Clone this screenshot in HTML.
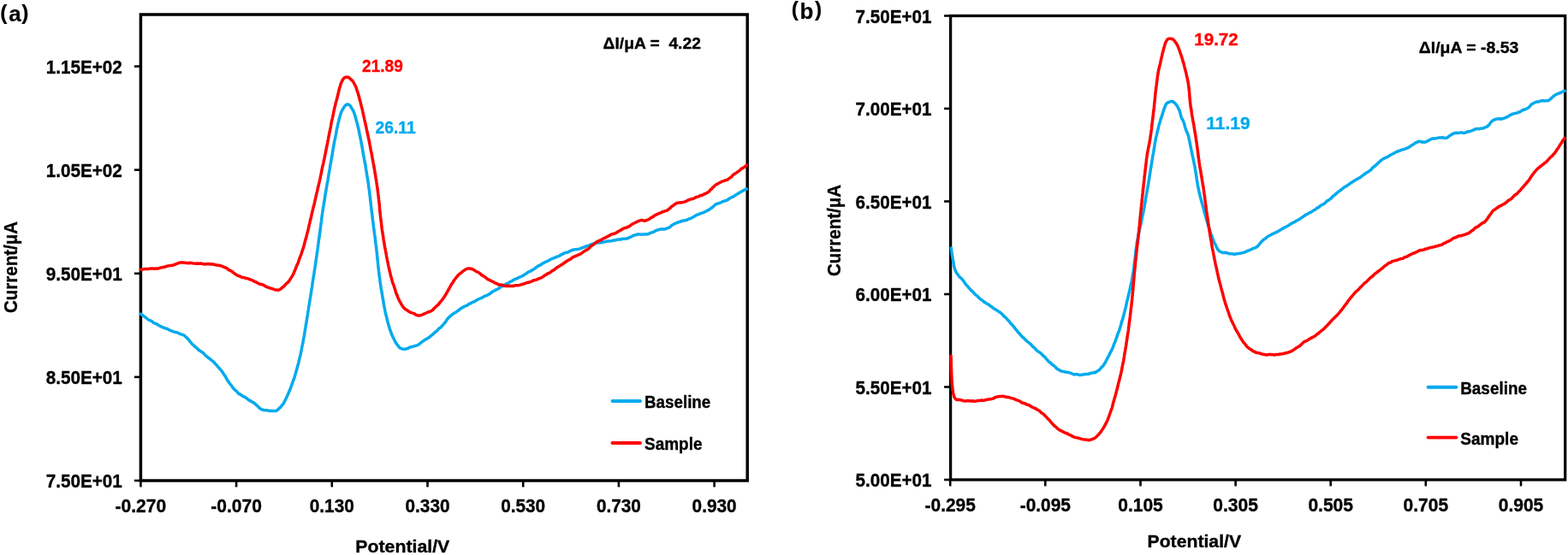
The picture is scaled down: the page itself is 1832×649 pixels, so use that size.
<!DOCTYPE html>
<html><head><meta charset="utf-8"><title>Chart</title>
<style>html,body{margin:0;padding:0;background:#fff;overflow:hidden;width:1832px;height:649px}svg{display:block}</style>
</head><body>
<svg width="1832" height="649" viewBox="0 0 1832 649" font-family="'Liberation Sans', Arial, sans-serif" font-weight="bold">
<rect width="1832" height="649" fill="#fff"/>
<line x1="156.9" y1="562" x2="164.4" y2="562" stroke="#000" stroke-width="2.6"/>
<line x1="156.9" y1="440.9" x2="164.4" y2="440.9" stroke="#000" stroke-width="2.6"/>
<line x1="156.9" y1="319.8" x2="164.4" y2="319.8" stroke="#000" stroke-width="2.6"/>
<line x1="156.9" y1="198.7" x2="164.4" y2="198.7" stroke="#000" stroke-width="2.6"/>
<line x1="156.9" y1="77.6" x2="164.4" y2="77.6" stroke="#000" stroke-width="2.6"/>
<line x1="164.4" y1="562" x2="164.4" y2="569.5" stroke="#000" stroke-width="2.6"/>
<line x1="276.1" y1="562" x2="276.1" y2="569.5" stroke="#000" stroke-width="2.6"/>
<line x1="387.8" y1="562" x2="387.8" y2="569.5" stroke="#000" stroke-width="2.6"/>
<line x1="499.5" y1="562" x2="499.5" y2="569.5" stroke="#000" stroke-width="2.6"/>
<line x1="611.2" y1="562" x2="611.2" y2="569.5" stroke="#000" stroke-width="2.6"/>
<line x1="722.9" y1="562" x2="722.9" y2="569.5" stroke="#000" stroke-width="2.6"/>
<line x1="834.6" y1="562" x2="834.6" y2="569.5" stroke="#000" stroke-width="2.6"/>
<rect x="164.4" y="17" width="708.8" height="545" fill="none" stroke="#000" stroke-width="3.5"/>
<text x="142.8" y="570.2" font-size="22" fill="#000" stroke="#000" stroke-width="0.35" text-anchor="end" textLength="89" lengthAdjust="spacingAndGlyphs">7.50E+01</text>
<text x="142.8" y="449.1" font-size="22" fill="#000" stroke="#000" stroke-width="0.35" text-anchor="end" textLength="89" lengthAdjust="spacingAndGlyphs">8.50E+01</text>
<text x="142.8" y="328" font-size="22" fill="#000" stroke="#000" stroke-width="0.35" text-anchor="end" textLength="89" lengthAdjust="spacingAndGlyphs">9.50E+01</text>
<text x="142.8" y="206.9" font-size="22" fill="#000" stroke="#000" stroke-width="0.35" text-anchor="end" textLength="89" lengthAdjust="spacingAndGlyphs">1.05E+02</text>
<text x="142.8" y="85.8" font-size="22" fill="#000" stroke="#000" stroke-width="0.35" text-anchor="end" textLength="89" lengthAdjust="spacingAndGlyphs">1.15E+02</text>
<text x="164.4" y="599" font-size="21.5" fill="#000" stroke="#000" stroke-width="0.35" text-anchor="middle" textLength="59.6" lengthAdjust="spacingAndGlyphs">-0.270</text>
<text x="276.1" y="599" font-size="21.5" fill="#000" stroke="#000" stroke-width="0.35" text-anchor="middle" textLength="59.6" lengthAdjust="spacingAndGlyphs">-0.070</text>
<text x="387.8" y="599" font-size="21.5" fill="#000" stroke="#000" stroke-width="0.35" text-anchor="middle" textLength="52" lengthAdjust="spacingAndGlyphs">0.130</text>
<text x="499.5" y="599" font-size="21.5" fill="#000" stroke="#000" stroke-width="0.35" text-anchor="middle" textLength="52" lengthAdjust="spacingAndGlyphs">0.330</text>
<text x="611.2" y="599" font-size="21.5" fill="#000" stroke="#000" stroke-width="0.35" text-anchor="middle" textLength="52" lengthAdjust="spacingAndGlyphs">0.530</text>
<text x="722.9" y="599" font-size="21.5" fill="#000" stroke="#000" stroke-width="0.35" text-anchor="middle" textLength="52" lengthAdjust="spacingAndGlyphs">0.730</text>
<text x="834.6" y="599" font-size="21.5" fill="#000" stroke="#000" stroke-width="0.35" text-anchor="middle" textLength="52" lengthAdjust="spacingAndGlyphs">0.930</text>
<line x1="1103.1" y1="561" x2="1110.6" y2="561" stroke="#000" stroke-width="2.6"/>
<line x1="1103.1" y1="452.5" x2="1110.6" y2="452.5" stroke="#000" stroke-width="2.6"/>
<line x1="1103.1" y1="344" x2="1110.6" y2="344" stroke="#000" stroke-width="2.6"/>
<line x1="1103.1" y1="235.5" x2="1110.6" y2="235.5" stroke="#000" stroke-width="2.6"/>
<line x1="1103.1" y1="127" x2="1110.6" y2="127" stroke="#000" stroke-width="2.6"/>
<line x1="1103.1" y1="18.5" x2="1110.6" y2="18.5" stroke="#000" stroke-width="2.6"/>
<line x1="1110.2" y1="561" x2="1110.2" y2="568.5" stroke="#000" stroke-width="2.6"/>
<line x1="1221.3" y1="561" x2="1221.3" y2="568.5" stroke="#000" stroke-width="2.6"/>
<line x1="1332.5" y1="561" x2="1332.5" y2="568.5" stroke="#000" stroke-width="2.6"/>
<line x1="1443.6" y1="561" x2="1443.6" y2="568.5" stroke="#000" stroke-width="2.6"/>
<line x1="1554.7" y1="561" x2="1554.7" y2="568.5" stroke="#000" stroke-width="2.6"/>
<line x1="1665.8" y1="561" x2="1665.8" y2="568.5" stroke="#000" stroke-width="2.6"/>
<line x1="1777" y1="561" x2="1777" y2="568.5" stroke="#000" stroke-width="2.6"/>
<rect x="1110.6" y="18.5" width="718.1" height="542.5" fill="none" stroke="#000" stroke-width="3.3"/>
<text x="1088.5" y="569.4" font-size="22" fill="#000" stroke="#000" stroke-width="0.35" text-anchor="end" textLength="89" lengthAdjust="spacingAndGlyphs">5.00E+01</text>
<text x="1088.5" y="460.9" font-size="22" fill="#000" stroke="#000" stroke-width="0.35" text-anchor="end" textLength="89" lengthAdjust="spacingAndGlyphs">5.50E+01</text>
<text x="1088.5" y="352.4" font-size="22" fill="#000" stroke="#000" stroke-width="0.35" text-anchor="end" textLength="89" lengthAdjust="spacingAndGlyphs">6.00E+01</text>
<text x="1088.5" y="243.9" font-size="22" fill="#000" stroke="#000" stroke-width="0.35" text-anchor="end" textLength="89" lengthAdjust="spacingAndGlyphs">6.50E+01</text>
<text x="1088.5" y="135.4" font-size="22" fill="#000" stroke="#000" stroke-width="0.35" text-anchor="end" textLength="89" lengthAdjust="spacingAndGlyphs">7.00E+01</text>
<text x="1088.5" y="26.9" font-size="22" fill="#000" stroke="#000" stroke-width="0.35" text-anchor="end" textLength="89" lengthAdjust="spacingAndGlyphs">7.50E+01</text>
<text x="1110.2" y="598" font-size="21.5" fill="#000" stroke="#000" stroke-width="0.35" text-anchor="middle" textLength="59.2" lengthAdjust="spacingAndGlyphs">-0.295</text>
<text x="1221.3" y="598" font-size="21.5" fill="#000" stroke="#000" stroke-width="0.35" text-anchor="middle" textLength="59.2" lengthAdjust="spacingAndGlyphs">-0.095</text>
<text x="1332.5" y="598" font-size="21.5" fill="#000" stroke="#000" stroke-width="0.35" text-anchor="middle" textLength="52.6" lengthAdjust="spacingAndGlyphs">0.105</text>
<text x="1443.6" y="598" font-size="21.5" fill="#000" stroke="#000" stroke-width="0.35" text-anchor="middle" textLength="52.6" lengthAdjust="spacingAndGlyphs">0.305</text>
<text x="1554.7" y="598" font-size="21.5" fill="#000" stroke="#000" stroke-width="0.35" text-anchor="middle" textLength="52.6" lengthAdjust="spacingAndGlyphs">0.505</text>
<text x="1665.8" y="598" font-size="21.5" fill="#000" stroke="#000" stroke-width="0.35" text-anchor="middle" textLength="52.6" lengthAdjust="spacingAndGlyphs">0.705</text>
<text x="1777" y="598" font-size="21.5" fill="#000" stroke="#000" stroke-width="0.35" text-anchor="middle" textLength="52.6" lengthAdjust="spacingAndGlyphs">0.905</text>
<path d="M164.5 367.2 166.4 368.4 168.2 369.9 169.9 371 171.7 372.5 173.6 374 175.6 374.8 177.5 375.7 179.3 377.4 181.5 378.3 183.7 379.2 185.6 380.7 187.5 381.4 189.4 382.5 191.3 383.1 193.2 384 195.1 384.4 197 385.4 198.9 386.5 200.9 387.1 202.9 387.9 205 388.6 207 388.8 208.9 389.8 210.8 390.6 213.1 391.4 215.1 392.1 216.9 393.8 218.5 395.1 219.9 396.7 221.5 398.7 223.1 400.6 224.8 402.6 226.2 403.7 228.1 405.6 229.6 406.7 231.2 408.4 232.8 409.9 234.4 410.6 236 411.7 237.9 413.2 239.7 415.3 241.4 416.6 243.2 418.2 244.8 419.3 246.7 420.9 248.5 422.3 250 423.7 251.6 425.4 253.1 427 254.8 429.1 256.4 430.8 258 432.7 259.6 434.7 260.9 436.8 262.1 438.6 263.2 439.9 264.3 442.1 265.5 444.3 266.7 446.1 268.1 447.9 269.3 449.6 270.5 450.9 271.8 453 273.1 454.6 274.4 455.9 276.2 457.3 277.8 459.2 279.4 460.8 281.1 461.3 282.8 462.7 284.5 463.6 286.2 464.4 288 465.5 289.8 467.1 291.6 468.5 293.3 469 295 470.3 297 471.2 298.8 473 300.5 474.3 302.1 476.1 304 477.9 305.7 478.6 307.7 479.6 310.1 479.7 312 479.7 314.1 480.4 316.1 480.3 318.1 480.5 320.2 480.6 322.6 480.5 324.7 479.1 326.2 477.3 327.6 476.4 329 474.4 330.2 473.2 331.4 471.6 332.5 469.4 333.7 467 334.7 464.9 335.6 463 336.6 460.8 337.4 458.9 338.2 457 339 455.3 339.8 453 340.6 450.8 341.3 449 342 446.8 342.8 444.4 343.6 442.7 344.3 440.3 345 438 345.8 435.1 346.3 433.3 346.9 431.4 347.5 428.9 348 427.1 348.6 425.2 349.1 422.7 349.6 420.8 350.1 418.6 350.7 416.5 351.2 414 351.6 412.2 352 410.3 352.5 407.6 352.9 405 353.4 403.1 353.9 401 354.3 398.3 354.7 396.2 355.1 394.1 355.5 391.7 355.9 389.3 356.3 386.8 356.7 384.4 357 382.6 357.3 380.4 357.7 378.3 358 376.6 358.4 374 358.7 372.2 359 370.3 359.4 368 359.7 365.6 360 364 360.4 361.6 360.7 359.3 361 357.3 361.4 355.6 361.7 353.2 362.1 350.7 362.4 348.7 362.7 347.1 363 344.9 363.4 343.1 363.7 340.5 364 338.3 364.4 336.4 364.7 334.6 365 332.3 365.3 329.8 365.7 327.5 366 325.6 366.3 323.4 366.6 321.8 366.9 320.1 367.3 317.1 367.7 314.6 368 312.7 368.3 310.6 368.6 308.7 368.9 306.3 369.3 303.5 369.7 300.9 370 299 370.3 296.6 370.6 294.5 371 292.1 371.3 289.9 371.5 287.7 371.8 286 372.1 283.4 372.4 280.9 372.7 279.1 373 277.2 373.3 275.4 373.6 273 373.8 271.2 374.1 269.3 374.3 266.8 374.7 264.5 374.9 262.7 375.2 260.6 375.5 258.4 375.7 256.1 376 254 376.3 251.8 376.6 249.5 376.9 247.8 377.2 245.6 377.5 244 377.8 241.5 378.1 240 378.4 238.1 378.8 235.9 379.2 233.5 379.5 231.5 379.8 229.3 380.2 226.2 380.7 224.2 381.1 221.4 381.5 218.9 381.9 217.2 382.2 215.1 382.6 213 383 211.1 383.4 208.6 383.8 205.8 384.1 203.6 384.5 202 384.8 199.9 385.2 198 385.5 195.7 385.9 193.3 386.2 191.4 386.6 189.8 387 186.9 387.4 184.9 387.8 182.8 388.2 180.5 388.6 178.1 389 175 389.3 173.2 389.7 171.5 390.1 168.8 390.5 166.6 390.9 164.4 391.4 162.3 391.8 160.4 392.2 158.4 392.6 156.6 393 153.9 393.4 151.5 393.9 149.3 394.4 147.1 394.8 144.9 395.3 143.6 395.7 141.9 396.3 139 396.9 136.9 397.5 134.8 398.3 132.2 399.2 130.1 400 128.5 401.1 126.6 402.5 124.5 404.1 122.7 406.1 122 408.2 122.7 409.8 124.6 410.9 126.6 412 128.4 413 130.2 413.8 132.2 414.6 134.6 415.3 136.9 415.9 139.3 416.5 141.4 417.2 144 417.8 146.5 418.3 148.4 418.8 150.4 419.3 152.7 419.8 155.3 420.3 157.5 420.7 159.7 421.1 161.6 421.5 163.4 421.9 165.7 422.3 168 422.7 169.7 423.1 172 423.5 174.2 423.9 176.8 424.3 179.4 424.7 181.4 425.2 184 425.6 186.4 426 188.3 426.4 190.7 426.9 192.8 427.3 195.7 427.6 197.8 428 200 428.3 202.1 428.6 204 428.9 206.1 429.3 208 429.6 209.6 429.9 211.9 430.2 213.6 430.5 215.9 430.9 218.9 431.1 220.5 431.4 222.4 431.7 224.4 431.9 227.1 432.2 228.9 432.4 230.8 432.7 233.5 432.9 235.2 433.2 237.8 433.4 240 433.7 242.3 433.9 244.5 434.2 246.3 434.4 248.4 434.7 250.2 435 252.9 435.2 255.1 435.5 257.4 435.8 259.3 436.1 261.8 436.3 264.2 436.6 266 436.9 268.2 437.2 270.6 437.5 273.2 437.8 275 438.1 277.1 438.4 279.4 438.7 281.8 438.9 284.2 439.2 286.4 439.5 288.6 439.8 290.8 440 293 440.3 295.4 440.5 297.6 440.7 299.8 440.9 302.4 441.2 304.2 441.4 306.4 441.6 308.1 441.8 310.4 442.1 312.7 442.3 314.9 442.5 316.9 442.8 318.9 443 321 443.3 323.4 443.5 324.9 443.8 326.6 444.1 329.5 444.5 332.3 444.8 334.2 445.1 336.2 445.4 338.5 445.8 340.2 446.1 342.2 446.5 344.2 446.8 346.7 447.2 348.7 447.6 350.6 448 353.1 448.3 355.5 448.7 357.2 449.1 359.3 449.6 361.6 450 364.3 450.5 366.4 451 368.3 451.4 370.1 452 372.1 452.4 374.3 453.1 376.8 453.7 378.9 454.3 381.1 454.9 383.1 455.7 385.8 456.5 387.6 457.3 390.2 458.1 392 459 394 460 395.9 461.1 398.4 462.3 400.5 463.4 402.2 464.6 403.7 466.2 405.7 467.7 407.2 469.8 407.9 472.3 408.3 474.3 408.2 476.4 407.3 478.5 406.3 480.5 405.5 482.8 405.2 485.2 404.4 487.1 403.9 489.1 403 491 401.4 493 399.9 495.1 398.4 496.8 397.1 498.5 396.3 500.2 395.3 501.9 394.2 503.6 392.4 505.5 391.2 507.1 389.6 508.7 388.2 510.3 387.1 511.8 385.3 513.4 383.8 515.2 382.7 516.9 380.7 518.3 379.1 519.5 377.7 521 375.8 522.5 373.3 523.8 371.8 525.3 370.4 527.1 368.9 529 367.2 530.6 366.2 532.3 365.5 534 364 535.8 362.9 537.5 361.4 539.2 360.2 540.9 359.5 542.7 358.1 544.5 357.6 546.3 356.9 548.1 355.3 549.9 354.8 551.7 353.6 553.5 352.9 555.3 352.1 557.1 350.8 558.9 350 561.1 349 563.4 348.1 565.6 346.6 567.4 345.9 569.2 345.3 571 344.2 573.1 342.9 574.9 341.4 576.6 340.5 578.4 339.4 580.1 338.7 581.9 337.8 583.6 336.7 585.3 335.3 587.1 334.6 588.9 333.7 590.7 332.3 592.5 331.8 594.3 330.8 596.1 329.4 597.9 328.9 599.7 327.5 601.5 326.5 603.7 325.8 606 324.7 608.2 323.6 610.5 322.6 612.3 321.6 614.1 320.4 615.8 319.2 617.6 317.9 619.3 317.3 621.1 316.4 622.8 315.2 624.6 314.2 626.3 312.8 628 311.6 629.8 310.5 631.6 309.9 633.4 308.4 635.2 307.5 637 306.4 639.2 305.7 641.4 304.4 643.6 303.2 645.5 302.3 647.4 301.6 649.2 301 651.1 300 652.9 299.6 654.8 298.3 656.7 297.4 658.5 296.4 660.4 295.5 662.3 295.3 664.2 294.7 666 293.6 668.4 292.5 670.3 292 672.2 291.8 674.2 291.6 676.6 291.1 679 290.4 680.9 289.4 682.9 288.9 684.8 288 686.8 287.5 688.7 286.9 690.6 285.8 692.6 285 694.5 284.8 696.5 283.9 698.5 283.9 700.5 283.8 702.6 283.7 704.6 283 706.6 282.7 708.6 282.3 710.6 282.1 712.7 282 714.8 281.6 716.9 280.9 718.9 280.9 721.2 280.3 723.3 280.1 725.4 280 727.8 279.2 730.2 279.3 732.2 279 734.5 278.1 736.8 277.1 738.7 276.2 740.6 275.1 742.7 274.7 745.1 274 747.5 274 749.6 274.2 751.7 274 753.8 273.9 755.8 273.9 757.8 273.6 759.8 272.3 761.8 271.9 763.7 271.1 765.7 269.9 768 269.1 770 268.5 772.1 267.9 774.6 267.9 777 268 778.9 267.2 781.1 266.4 782.8 265.4 784.5 263.7 786.2 262.8 788 261.6 789.9 260.9 792.2 260 794.6 259.3 796.5 258.4 798.5 258.1 800.5 257.8 802.5 257.3 804.4 256.2 806.7 255.5 808.6 254.6 810.5 253.4 812.4 252.3 814.2 251.4 816.1 250.6 818 249.8 819.9 249.2 821.8 248.6 823.7 247.7 825.5 246.7 827.7 245.7 829.7 244.3 831.5 243 833.3 241.6 835.1 239.9 837 238.4 839.1 238 841.4 237.2 843.4 236.2 845.4 235.4 847.4 234.8 849.2 234.2 851.1 233 852.9 231.7 855 230.5 857.1 229.8 859.2 228.2 861 227.3 862.9 226 864.9 224.9 866.9 223.6 868.8 222.7 870.9 221.5 872.4 221.1" fill="none" stroke="#00AAED" stroke-width="3.5" stroke-linejoin="round" stroke-linecap="round"/>
<path d="M164.5 315.3 166.9 314.9 169.3 314.6 171.5 314.6 173.8 314.4 176.1 314 178.5 314 180.8 314.3 183.3 314.1 185.3 313.9 187.4 313.1 189.5 312.8 191.6 312.3 193.7 311.7 196.1 311 198.1 310.6 200.1 310.6 202.4 310 204.6 309.2 206.9 308.4 208.9 307.4 211.2 306.9 213.6 306.9 216 307.2 218 307.5 220.2 307.8 222.4 307.3 224.5 307.7 226.7 308 228.8 308.2 230.8 308 233.1 308.3 235.3 308.1 237.6 308.8 239.8 309 241.8 308.8 244.3 308.5 246.6 309 248.8 309 251 309.5 253.1 310 255.5 310.2 257.9 310.7 259.9 311.5 261.7 312.3 263.6 313 265.5 314.1 267.3 315.7 269 316.4 271 317.4 272.8 319 274.6 320.2 276.6 321.6 278.7 322.6 280.7 323.2 283 324.5 285 324.6 287 325.2 289.1 325.6 291.1 326.5 293.1 327.1 295 327.8 296.8 329 298.7 329.6 300.6 330.6 302.5 331.9 304.3 332.2 306.2 332.7 308.5 333.7 310.6 335.1 312.8 336 314.9 336.6 317 337.3 318.9 337.9 321 338.7 323 339.1 325.1 339.3 327 338.5 328.6 337.4 330.2 335.9 331.8 334.8 333.6 332.7 335.2 331.1 336.6 330 337.9 328.5 339 326.5 340.2 324.9 341.4 322.9 342.4 321.2 343.5 318.6 344.6 316 345.5 313.9 346.3 311.7 347.2 309.5 348 308.2 348.7 306 349.5 303.5 350.3 301.3 351 299.3 351.8 297.8 352.4 295.7 353.1 293.7 353.7 291.5 354.3 290.2 354.9 288 355.5 285.7 356.1 283.4 356.6 281.3 357.2 279.3 357.7 277.9 358.3 275.3 358.9 272.7 359.5 271 360 268.7 360.4 267.2 360.9 264.6 361.4 262.4 361.9 260.6 362.4 257.9 363 256.1 363.5 253.9 364 251.4 364.5 249.2 365.1 246.6 365.7 244.4 366.1 242.3 366.6 240.9 367.1 239 367.6 236.7 368.2 234 368.7 231.7 369.2 229.4 369.7 227.1 370.2 225.1 370.7 223.5 371.2 220.9 371.7 218.4 372.2 216.7 372.7 214.3 373.2 212.3 373.7 210 374.1 208.3 374.5 206.2 375 204.2 375.4 202.2 375.8 199.9 376.3 197.4 376.7 195.2 377.1 193.7 377.6 191.9 378 190 378.4 187.5 378.9 185.6 379.3 183.7 379.8 181.2 380.2 179.4 380.6 177.1 381 175.1 381.4 173.1 381.9 170.6 382.3 168.9 382.7 167.1 383.1 164.3 383.5 162.6 383.9 160.7 384.4 158.5 384.8 155.8 385.2 154.2 385.6 151.7 386 150.2 386.5 147.8 386.9 144.9 387.4 142.4 387.8 140.6 388.3 138.6 388.7 136.6 389.2 134.8 389.7 131.8 390.2 129 390.7 127.4 391.2 124.8 391.7 123.3 392.2 120.5 392.8 118.7 393.3 116.8 393.8 114.9 394.3 112.7 394.9 110.6 395.5 107.7 396.1 105.5 396.6 103.2 397.2 101.6 397.8 99.5 398.5 97.3 399.6 94.9 401.1 92.2 402.6 90.6 404.5 90.1 406.7 90.2 408.5 91.5 410.3 93.1 411.7 94.3 413 96 414.2 98.5 415.3 100.6 416 102 416.8 104.7 417.5 107 418.2 108.7 418.9 111.2 419.5 113.2 420 115.6 420.6 117.4 421.1 119.4 421.7 121.8 422.3 124.5 422.8 126.3 423.4 128.3 423.9 131 424.5 133.8 424.9 135.6 425.4 137.5 425.8 139.8 426.3 141.9 426.7 143.4 427.2 145.9 427.6 147.6 428 149.5 428.5 152.1 429 154.3 429.5 156.9 430 158.8 430.5 161.5 431 163.5 431.5 165.7 431.9 168.3 432.3 170.2 432.7 172.4 433.1 174.8 433.5 176.8 433.9 178.3 434.3 180.3 434.7 182.7 435.1 185.1 435.6 187.7 436 190 436.4 192 436.8 193.9 437.2 196.4 437.5 198.3 437.9 200.6 438.2 202.9 438.6 204.8 438.9 206.8 439.2 208.8 439.6 210.5 439.9 213 440.2 214.8 440.5 217.1 440.8 218.7 441.1 221.1 441.3 223.2 441.6 225.1 441.8 227 442.1 228.7 442.3 231.2 442.5 233.2 442.8 235.5 443 237.2 443.2 239.1 443.4 241.1 443.6 243.7 443.8 245.5 444 248.5 444.3 250.6 444.5 253 444.8 255 445 257.3 445.3 259.4 445.6 261.7 445.8 264.3 446.1 266.3 446.4 268.7 446.7 270.7 447.1 272.8 447.4 274.8 447.7 276.7 448.1 279.7 448.5 282.2 448.9 284.6 449.3 287.2 449.7 289.3 450 290.8 450.4 292.9 450.8 295 451.2 297.1 451.6 299.5 452 301.6 452.4 303.8 452.8 305.5 453.3 308 453.8 310.6 454.3 312.8 454.8 314.9 455.2 317 455.8 319 456.3 321.8 456.9 323.8 457.6 326.2 458.3 328.8 458.9 330.8 459.5 332.3 460.1 334 460.8 336 461.5 338.3 462.2 340.8 462.9 343 463.7 344.7 464.4 346.5 465.2 348.8 466 350.3 466.9 352.4 467.9 353.9 469.1 356.1 470.6 358.4 472 360.2 473.8 361.7 475.7 362.7 477.7 364.3 479.5 365.3 481.4 365.9 483.4 366.4 485.4 367.8 487.3 368.7 489.8 369 491.8 368.6 493.8 367.8 495.9 366.8 497.9 366 499.9 365 502 364.5 504 363.5 505.7 362.4 507.3 360.5 509 358.9 510.6 357.3 512.2 356.1 513.8 353.9 515.3 352.3 516.5 350.7 517.7 349 518.9 347.5 520.2 345.3 521.4 343.5 522.5 341.4 523.8 339.1 524.9 337.1 525.9 335.4 527 333.4 528.1 331.4 529.1 330.4 530.1 328.4 531.4 326.7 532.6 325 534 323.3 535.6 321.4 537.3 320.1 538.9 318.9 540.7 317.4 542.4 316.1 544.1 315 546.4 314 548.8 313.9 551 314.5 553 315.1 555.3 316.8 557.2 317.8 558.9 318.5 560.6 319.6 562.4 321.4 564.2 322.4 566 323.5 567.7 324.9 569.5 326.4 571.3 327.2 573.1 328.1 574.8 329.1 576.6 329.7 578.5 331.1 580.3 331.4 582.7 332.9 585.1 333.1 587.1 333.3 589.1 334.2 591.5 334.6 594 334.3 596 334.4 598.1 334.3 600.1 334.4 602.1 333.7 604.5 333.7 607 333.4 608.9 332.8 610.9 332.3 612.9 331.8 615 330.7 617.3 330.2 619.2 329.8 621.2 329 623.2 327.9 625.2 327.5 627.1 327.1 629 326 630.9 325.3 632.7 324.7 634.4 323.6 636.2 322.1 637.9 321.3 639.7 320 641.4 319.4 643.1 318.4 645.2 316.7 646.8 315.9 648.5 314.7 650.1 313.2 651.7 312.3 653.3 311.4 655.4 310 657.1 309 658.8 307.7 660.6 306.5 662.3 305.3 664.1 304.2 665.8 303.5 667.6 302.1 669.8 300.4 671.6 299.9 673.8 298.8 676.1 297.9 678.3 296.9 680.1 295.7 681.9 294.4 684 292.8 685.6 292.1 687.2 291.2 688.8 289.8 690.3 287.9 691.9 287 693.5 285.9 695.5 284.2 697.3 282.6 699.1 282 700.9 281.2 703.2 280.1 705.4 278.6 707.7 277.9 709.5 276.6 711.3 275.8 713.1 274.7 714.9 273.9 716.7 273.5 718.5 272.8 720.3 272 722.2 270.7 724 269.7 725.9 268.9 727.7 267.5 729.6 266.7 731.4 266.3 733.6 265.3 735.8 264.3 737.7 262.7 739.5 261.7 741.3 260.8 743.5 259.7 745.8 258.6 747.8 257.9 749.8 257.4 751.8 258 753.8 258.2 755.8 257.3 757.9 256.6 760 255.1 761.7 254.1 763.5 253.1 765.3 251.7 767.2 250.9 769.5 249.7 771.4 249.1 773.4 248 775.4 247.3 777.3 246.6 779.4 246.2 781.2 244.6 782.8 243.6 784.6 241.5 786.4 240.5 788.5 238.7 790.7 237.5 793 236.9 795.5 236.9 797.5 236.5 799.7 236.1 802.1 235.1 804 234 806 233.3 808 232.6 810.1 232.4 812.1 231.1 814 230.3 816.1 229.9 818.3 228.6 820.3 228.4 822.5 227.1 824.7 226.1 826.5 225.2 828.4 224 829.9 222 831.4 221 832.9 219.1 834.5 217.9 836.1 216.1 837.9 215.4 839.7 214.2 841.6 213.2 843.6 212.2 845.5 211.6 847.4 210.8 849.2 210.5 851 209.4 852.7 208 854.3 207.2 855.8 205.3 857.4 203.8 858.9 203 860.6 201.9 862.3 200.6 864.2 199.4 866.2 197.3 868.1 196.4 869.9 195.2 871.6 194 872.4 193.1" fill="none" stroke="#FF0000" stroke-width="3.5" stroke-linejoin="round" stroke-linecap="round"/>
<path d="M1111.3 290 1111.6 292.2 1111.9 294.7 1112.3 297.1 1112.6 299.6 1113 301.8 1113.3 304.2 1113.7 305.4 1114.1 307.6 1114.5 310.1 1114.9 312 1115.5 314.6 1116.2 316.2 1117.2 318.5 1118.5 320.3 1120 322.3 1121.6 324.3 1123.1 325.4 1124.6 327.2 1126.2 329.1 1127.7 331.6 1129 333.3 1130.4 334.5 1131.8 336.5 1133.2 337.8 1134.6 339.6 1136 340.7 1137.4 341.9 1138.9 344 1140.5 345.1 1142.1 346.3 1143.6 348.2 1145.6 349.9 1147.5 351 1149.5 352.9 1151.3 353.9 1153 355.1 1154.8 355.8 1156.5 357.4 1158.2 358.5 1160.3 360.1 1162 361.4 1163.6 362.1 1165.2 363.2 1166.8 364.2 1168.4 365.3 1169.9 366.5 1171.5 368 1173.2 370 1175 371.4 1176.5 373.2 1177.9 374.6 1179.3 376 1180.7 378 1182.4 379.7 1183.9 381.4 1185.5 383.4 1186.8 385.2 1188 386.3 1189.4 388.5 1190.7 389.5 1192.4 391.7 1194.1 393.7 1195.8 394.9 1197.3 396.7 1198.7 397.9 1200.2 399.4 1201.7 400.4 1203.2 401.6 1204.7 402.9 1206.3 405 1207.9 406.1 1209.5 407.8 1211.1 409.5 1212.8 411 1214.3 411.8 1216.2 413.2 1218 415 1219.6 416.8 1221.1 417.8 1222.5 419.6 1224.1 421.5 1225.8 423.4 1227.6 424.4 1229.2 426.3 1230.7 427.2 1232.3 428.5 1233.9 430.1 1235.5 431.6 1237.2 432.3 1239 433.6 1240.9 434.2 1242.8 434.6 1244.8 435 1246.8 435.3 1248.7 435.6 1250.7 436.1 1252.7 437 1254.7 437.9 1256.8 437.8 1258.8 437.7 1260.8 438.5 1262.8 438.4 1264.9 438.1 1266.9 437.7 1269 437.5 1270.9 437.5 1273.3 436.8 1275.4 436.3 1277.4 435.6 1279.4 435.8 1281.3 434.5 1283.3 433.3 1284.8 432.3 1286.3 430.3 1287.8 428.7 1289.1 427.4 1290.3 425.5 1291.5 423.7 1292.7 421.1 1293.7 419.3 1294.8 417.1 1295.8 415.5 1296.9 413 1297.8 411.2 1298.6 409.8 1299.5 408 1300.3 406.2 1301.1 403.9 1301.9 401.7 1302.7 399.9 1303.5 397.9 1304.4 395.3 1305.1 393.4 1305.7 391.2 1306.4 389.4 1307.1 388.1 1307.7 386.4 1308.3 384.3 1309 382.2 1309.6 380 1310.2 377.7 1310.7 375.7 1311.3 374.3 1311.9 372.6 1312.4 370.4 1313 368.2 1313.6 365.9 1314.2 363.5 1314.8 361 1315.3 359.2 1315.8 356.9 1316.2 355 1316.7 352.6 1317.2 350.6 1317.7 348.5 1318.3 346.3 1318.8 343.7 1319.4 341.8 1319.9 339.5 1320.5 337 1321 334.1 1321.4 332.3 1321.9 330.1 1322.3 328.3 1322.7 326.1 1323.1 324.1 1323.5 321.9 1323.8 319.8 1324.2 317.2 1324.5 314.8 1324.8 312.9 1325 311 1325.3 308.6 1325.5 306.8 1325.8 304.8 1326 302.6 1326.3 300.7 1326.5 298.6 1326.8 296.2 1327 293.9 1327.3 291.5 1327.5 289.9 1327.9 287.7 1328.2 285.1 1328.6 282.8 1329 280.6 1329.4 278.5 1329.8 275.9 1330.2 274.2 1330.6 272.2 1331.1 270.3 1331.6 267.7 1332.1 265.4 1332.7 263.3 1333.2 260.9 1333.7 258.6 1334.2 255.7 1334.7 253.2 1335.1 251.3 1335.5 249.6 1336 246.9 1336.4 244.8 1336.9 242.5 1337.3 239.6 1337.8 237.3 1338.2 234.8 1338.6 232.1 1339 230 1339.3 228.1 1339.7 226 1340.1 223.6 1340.5 221.4 1340.8 219.7 1341.2 217.7 1341.5 215.8 1341.9 213.7 1342.2 211.3 1342.6 209.6 1342.9 206.9 1343.3 204.9 1343.6 202.8 1344 200.5 1344.3 198 1344.7 196.4 1345.1 193.5 1345.5 191.1 1345.8 189.2 1346.2 186.6 1346.5 184.9 1346.8 182.8 1347.2 180.5 1347.6 178.6 1348 176.3 1348.3 173.9 1348.7 172.1 1349 169.9 1349.4 167.5 1349.8 165.1 1350.1 163.3 1350.6 161 1351 159.4 1351.5 157.4 1352 155.1 1352.5 152.7 1353.1 151.1 1353.7 148.1 1354.3 145.6 1355 143.4 1355.6 141.5 1356.2 139.2 1356.8 137.5 1357.6 135.5 1358.3 132.9 1359 130.8 1359.7 128.3 1360.5 126.1 1361.2 124.7 1362 122.3 1363.2 120.8 1364.9 119.8 1367.2 118.9 1369.3 118.4 1371.2 119.4 1372.7 120.6 1374 122.2 1375.3 123.8 1376.6 126.3 1377.6 128.1 1378.2 129.7 1378.8 131.8 1379.3 133.7 1379.8 136 1380.5 138 1381.6 139.7 1382.6 141.9 1383.4 144 1383.9 145.3 1384.2 147.5 1384.9 149.5 1385.8 152.3 1386.6 154.3 1387.4 155.9 1388.1 157.7 1388.7 159.6 1389.2 162.6 1389.7 164.4 1390.2 166.8 1390.6 168.9 1391.1 171.4 1391.5 173.5 1392 175.8 1392.4 177.4 1392.8 179.8 1393.2 181.6 1393.7 184.1 1394.2 186.2 1394.7 188.4 1395.1 191 1395.6 193 1396 195.1 1396.4 197.7 1396.8 199.9 1397.1 201.8 1397.4 203.8 1397.8 206 1398.1 208.6 1398.4 210.9 1398.7 212.8 1399.1 214.3 1399.4 216.8 1399.8 218.7 1400.3 221.2 1400.8 223.4 1401.2 225.5 1401.7 227.3 1402.2 229.6 1402.7 231.2 1403.3 233.5 1404 236.2 1404.6 238.1 1405.2 240.4 1405.8 242.8 1406.3 244.4 1406.9 246.8 1407.4 248.9 1407.9 250.7 1408.5 252.4 1409.2 255.1 1409.8 257.7 1410.4 259.1 1411 261.2 1411.6 263.3 1412.2 265.3 1412.8 267.2 1413.4 268.8 1414.2 271.4 1414.9 274 1415.7 275.5 1416.4 277.5 1417.2 279.9 1417.9 282 1418.9 284.2 1419.9 285.6 1420.9 287.9 1422 290.2 1423.2 292.1 1424.8 293.8 1426.5 294.5 1428.5 295.5 1430.6 295.3 1432.7 295.5 1434.7 296.2 1436.7 296.8 1438.7 296.8 1440.7 297 1442.8 297.4 1444.9 296.7 1447 296.6 1449.2 296.3 1451.4 295.6 1453.9 295.1 1455.9 294.1 1458.2 293.1 1460.2 292.5 1462.3 291.5 1464.3 290.4 1466.2 289.8 1467.9 289.1 1469.5 288.1 1470.9 286.1 1472.2 284.6 1473.5 283 1474.9 281.6 1476.4 280.2 1478 279.3 1480 277.6 1482 276 1484.2 275.1 1486 273.9 1487.8 273.2 1489.7 272.2 1491.6 271.5 1493.7 270.3 1495.8 269.1 1497.6 267.8 1499.4 266.9 1501.3 265.7 1503.1 265.1 1504.9 264 1506.8 262.7 1508.5 261.6 1510.7 260.4 1512.8 259.5 1514.9 258 1517 257 1518.7 256.1 1520.5 254.5 1522.3 253.7 1524.2 252.2 1525.9 251 1528 250.1 1529.7 248.9 1531.4 248.3 1533.2 247.1 1535 245.8 1536.8 245 1538.6 243.4 1540.4 242.6 1542.1 241.1 1543.8 239.8 1545.8 239 1547.5 237.9 1549.2 236.3 1550.8 234.7 1552.4 234.1 1553.9 232.8 1555.5 231.7 1557.4 229.5 1559.3 228.1 1561.2 226.4 1562.8 225 1564.4 223.7 1566 222.7 1567.6 221.4 1569.2 220.1 1570.9 218.7 1572.5 218 1574.5 216.6 1576.5 215.3 1578.5 213.7 1580.2 212.8 1581.9 211.5 1583.7 210.5 1585.4 209.5 1587.6 208.4 1589.8 207 1591.5 205.6 1593.3 204.3 1595 203.2 1596.7 201.8 1598.6 201 1600.1 199.7 1601.7 198.6 1603.2 196.6 1604.8 195.3 1606.3 194.3 1607.8 192.9 1609.4 191.4 1610.9 190.1 1612.8 188.2 1614.5 186.9 1616.4 185.6 1618.2 184.7 1620.1 183.7 1621.9 183.2 1623.7 181.8 1625.5 180.8 1627.7 179.7 1629.8 178.5 1631.7 177.6 1633.7 176.7 1635.6 176.2 1637.9 175 1640.1 174.8 1642.3 173.7 1644.1 173.2 1646 172.2 1647.8 171.1 1649.7 169.7 1651.5 168.8 1653.3 167.2 1655.4 166.3 1657.5 165.3 1659.7 165.5 1662.1 166.2 1664.4 166.3 1666.8 165.6 1668.6 164.5 1670.5 163.5 1672.4 162.4 1674.4 162 1676.4 162.1 1678.6 161.6 1680.7 161.1 1682.7 161 1685.3 160.7 1687.3 161.3 1689.7 161.5 1691.9 160.2 1693.9 158.6 1695.6 157.5 1697.4 156.6 1699.3 155.7 1701.7 155.2 1703.8 155.6 1706 155.1 1708.1 155 1710.2 155.5 1712.2 155.1 1714.2 154.2 1716.1 153.7 1718 153.5 1719.9 152.6 1721.8 151.8 1723.9 151 1726.1 150.4 1728.2 150.7 1730.2 150.3 1732.6 150.1 1734.7 149.1 1736.9 148.3 1738.7 147 1740.3 145.4 1741.6 143.4 1743 141.8 1744.6 140.6 1746.8 139.7 1748.8 139.1 1750.9 138.7 1753 139.3 1755.1 138.7 1757.5 138.2 1759.5 137.4 1761.7 136.4 1763.5 135.1 1765.4 134.2 1767.7 133.1 1769.7 132.6 1771.6 132.4 1773.6 131.5 1775.6 130.9 1777.5 129.7 1779.5 128.5 1781.5 128 1783.3 127.3 1785.3 126.3 1787 124.9 1788.2 123.3 1789.5 121.9 1791.2 121 1793.4 119.7 1795.5 119.1 1797.7 119 1799.7 118.2 1802.2 117.6 1804.3 117.9 1806.7 117.8 1808.6 117.7 1810.7 116.6 1812.4 115 1814.2 113.3 1815.8 111.9 1817.7 110.8 1819.6 109.8 1821.8 109 1824.1 108.1 1826.2 106.9 1828.1 106.3" fill="none" stroke="#00AAED" stroke-width="3.5" stroke-linejoin="round" stroke-linecap="round"/>
<path d="M1111 416.2 1111.1 418.7 1111.1 420.9 1111.2 423.1 1111.3 424.9 1111.3 426.7 1111.4 429.4 1111.5 431.8 1111.6 434.5 1111.7 436.6 1111.8 439.2 1111.9 441 1112 443.4 1112.1 445.8 1112.3 447.7 1112.5 450.2 1112.8 452.8 1113 454.7 1113.3 456.9 1113.7 459.6 1114.1 461.4 1114.8 463.9 1115.7 465.9 1117.6 467.4 1119.7 467.3 1121.8 467.4 1124.1 468.3 1126.1 468.8 1128.2 468.9 1130.4 468.6 1132.5 468.7 1134.5 469 1136.5 468.8 1138.5 469.3 1140.6 469 1142.6 468.4 1144.6 468.4 1146.6 468 1148.6 468.2 1150.6 468 1152.6 467.4 1154.6 467.1 1156.6 466.7 1158.6 466.4 1160.6 466 1162.6 464.7 1164.6 464.1 1166.6 463.8 1168.6 463.4 1170.6 463.5 1172.6 463.3 1174.6 464.1 1176.6 464.4 1178.6 464.5 1180.6 465.4 1183 465.9 1185.2 466.6 1187.5 467.7 1189.4 468.3 1191.5 469.1 1193.5 470.6 1195.7 471.6 1197.5 471.8 1199.4 473 1201.4 473.4 1203.3 474.3 1205.3 475.7 1207.1 476.6 1209.2 477.4 1211 478.4 1212.8 479.5 1214.7 480.6 1216.7 482.7 1218.3 483.5 1219.9 485 1221.5 486.7 1223.2 488.2 1224.6 490.1 1226.1 491.2 1227.5 493.2 1229 495 1230.5 496.4 1231.9 498 1233.4 499.1 1235.2 500.8 1237 502.2 1238.7 503.2 1240.5 504.1 1242.3 505.2 1244.5 506.2 1246.7 506.8 1248.8 508.2 1250.7 508.9 1252.6 509.9 1254.5 511 1256.7 511.6 1259 512 1261.3 512.6 1263.4 513.4 1265.5 513.8 1267.6 514 1269.6 514.3 1272 514.8 1274.4 514.1 1276.4 513.5 1278.6 512.7 1280.4 511.4 1281.9 509.7 1283.5 508.2 1285.1 506.4 1286.4 504.5 1287.7 502.7 1289 500.6 1290.1 499 1291.1 496.9 1292.2 495 1293.2 493.2 1294 491.4 1294.8 489.1 1295.7 487 1296.5 484.5 1297.3 482.2 1298 480.2 1298.7 478.4 1299.4 476.5 1300.1 473.8 1300.7 470.9 1301.3 469.2 1301.9 466.9 1302.4 464.8 1303 463.3 1303.5 460.9 1304.1 459.2 1304.6 456.9 1305.2 455.2 1305.7 453 1306.3 450.2 1306.8 447.8 1307.4 446.2 1307.9 444 1308.5 441.5 1309 439.5 1309.6 437.2 1310.1 434.6 1310.6 432.4 1311 430 1311.4 427.9 1311.9 425.5 1312.3 423.5 1312.8 421.3 1313.2 418.5 1313.6 416.5 1313.9 414 1314.3 411.6 1314.7 409.8 1315 407.5 1315.4 405.5 1315.8 403 1316.1 401.1 1316.4 398.6 1316.7 396.9 1317 394.4 1317.3 392.5 1317.6 390.8 1317.9 388.9 1318.2 386.9 1318.5 384.5 1318.7 382.4 1319 380.4 1319.3 377.8 1319.6 376.1 1319.9 374.3 1320.1 371.9 1320.4 370 1320.6 367.7 1320.9 365.4 1321.1 363.7 1321.4 360.7 1321.7 359.1 1321.9 357.4 1322.1 354.9 1322.3 353.2 1322.6 350.5 1322.8 348.8 1323 346.3 1323.2 344.7 1323.4 342.3 1323.6 340.5 1323.8 337.8 1324 335.4 1324.2 333.8 1324.3 331.9 1324.5 329.8 1324.7 327.3 1324.9 325.1 1325.1 322.8 1325.3 320.1 1325.5 318.4 1325.7 316.3 1325.9 314.2 1326.2 311.9 1326.4 309.4 1326.6 306.4 1326.9 304.4 1327.1 301.8 1327.4 299.8 1327.6 297.7 1327.8 295.7 1328.1 292.9 1328.4 290.4 1328.6 288.4 1328.9 285.8 1329.2 283.8 1329.4 281.3 1329.7 279 1330 276.5 1330.2 274.4 1330.4 272.3 1330.7 269.7 1330.9 267.2 1331.1 265.5 1331.3 263.9 1331.5 261.7 1331.7 259.3 1331.9 257.2 1332.1 255 1332.3 253.2 1332.5 251.4 1332.7 249.3 1332.9 246.9 1333.1 244.8 1333.3 242.8 1333.5 240.9 1333.7 238.4 1334 236.5 1334.2 234 1334.5 231.7 1334.7 229.5 1334.9 227.3 1335.2 225.2 1335.4 222.7 1335.6 220.7 1335.9 218.9 1336.1 216.2 1336.4 214.3 1336.6 212.2 1336.9 209.4 1337.1 206.8 1337.4 205.1 1337.7 202.6 1337.9 200.8 1338.1 198.4 1338.4 196 1338.7 193.5 1338.9 191.8 1339.2 189.8 1339.4 187.1 1339.7 185 1340 183.2 1340.3 180.5 1340.6 178.5 1341.1 176.3 1341.5 174.3 1342 171.6 1342.5 169.5 1342.9 167.1 1343.3 164.8 1343.7 163.1 1344 160.5 1344.3 158.9 1344.6 156.7 1344.9 154.3 1345.2 152.3 1345.5 150.2 1345.7 147.8 1346 145.6 1346.2 143.2 1346.5 141.6 1346.7 139.6 1347 137.6 1347.2 135.1 1347.5 132.8 1347.8 130.1 1348 128.2 1348.3 126.2 1348.5 124.3 1348.7 122.1 1348.9 119.8 1349.2 117.8 1349.4 115.1 1349.6 113.3 1349.8 110.4 1350.1 108.1 1350.4 105.6 1350.6 104.1 1350.9 101.2 1351.2 99.5 1351.4 97.6 1351.7 95.3 1352 93.2 1352.3 90.3 1352.7 87.8 1353.1 85.1 1353.5 82.9 1353.9 80.8 1354.4 79.4 1354.8 77.1 1355.3 75.5 1355.8 73.4 1356.3 70.7 1356.8 68.8 1357.2 66.5 1357.7 65.1 1358.1 62.8 1358.6 61 1359.2 58.7 1359.7 56.7 1360.4 54.3 1361.1 52 1361.9 49.4 1362.7 48.1 1363.9 46.1 1365.9 45.2 1368 45.3 1370.2 45.8 1372.1 47.6 1373.5 49.5 1374.7 51.3 1375.6 52.7 1376.5 54.9 1377.4 57.2 1378.3 59.8 1379 61.7 1379.7 63.8 1380.4 65.9 1381 67.6 1381.6 69.9 1382.2 72.1 1382.8 73.5 1383.4 75.8 1383.9 78.1 1384.4 80.1 1384.8 81.7 1385.3 83.4 1385.8 85.2 1386.2 87.2 1386.7 89.8 1387.2 91.7 1387.6 93.3 1388 95.6 1388.4 97.7 1388.7 100.1 1389 102.8 1389.3 105.3 1389.5 106.7 1389.7 108.9 1389.8 111.1 1390 113.7 1390.2 116 1390.4 118 1390.6 120.6 1390.9 122.8 1391.2 125.2 1391.6 127.3 1392 129.6 1392.3 132.1 1392.6 134.3 1393 136.2 1393.4 138.5 1393.7 140.5 1394.1 142.7 1394.4 144.1 1394.8 145.8 1395.1 148.1 1395.5 150.6 1395.9 153.3 1396.2 155.1 1396.6 157.3 1396.9 159 1397.3 161.8 1397.6 164.4 1398 166.3 1398.4 169.3 1398.6 171.3 1398.9 173.1 1399.2 175.4 1399.5 177.5 1399.8 180.3 1400.1 183.1 1400.4 184.7 1400.7 186.7 1401 189.3 1401.4 192 1401.7 194.3 1402.1 196.4 1402.5 198.4 1402.9 200.6 1403.2 202.6 1403.6 204.9 1403.9 206.9 1404.3 209.1 1404.6 211.5 1405 213.4 1405.3 215.6 1405.6 217.2 1406 218.7 1406.2 221.2 1406.5 222.8 1406.8 225.4 1407.1 227.3 1407.4 228.9 1407.6 230.9 1407.9 233.4 1408.2 235.3 1408.4 237.5 1408.7 239.1 1408.9 241.6 1409.2 243.4 1409.5 246.2 1409.8 248.1 1410.2 250.8 1410.5 252.9 1410.8 254.9 1411.1 256.6 1411.4 258.9 1411.7 261.4 1412 262.9 1412.3 265 1412.7 267.1 1413.1 270.3 1413.5 273 1413.9 275.2 1414.3 277.5 1414.6 279.1 1415 281 1415.4 283.5 1415.7 285.9 1416.1 288.2 1416.4 290.2 1416.9 292.3 1417.4 294.4 1417.8 296.8 1418.3 299.2 1418.7 301.3 1419.1 303.6 1419.6 305.8 1420.1 308.6 1420.6 310.9 1421.1 312.7 1421.5 315 1422 317.1 1422.4 319.1 1422.9 320.9 1423.4 323.7 1424 326 1424.5 328.3 1425.1 330.4 1425.6 332.1 1426.1 334 1426.6 336.2 1427.2 338.5 1427.8 340.6 1428.4 342.6 1429.1 345.5 1429.8 348.1 1430.3 350.4 1430.9 351.9 1431.5 354.2 1432.1 356.2 1432.8 357.8 1433.4 360.2 1434.1 362 1434.7 363.7 1435.4 365.4 1436.2 368.3 1437 370.1 1437.8 372.2 1438.7 374.4 1439.6 376.3 1440.5 378.4 1441.4 379.9 1442.3 381.9 1443.2 383.9 1444.4 386.2 1445.6 388.3 1446.7 390 1447.9 392.2 1449 394.5 1450.2 396.2 1451.4 398 1452.5 400 1453.7 401.2 1455.2 403 1456.8 405.3 1458.5 406.6 1460.4 408.1 1462.2 409.1 1464 410.7 1465.9 411.4 1467.8 412.4 1469.7 412.6 1471.6 413 1474 413.9 1476.1 414.2 1478.2 414.7 1480.3 414.9 1482.4 414.6 1484.5 414.5 1486.9 414.7 1489.4 414.9 1491.6 414.6 1493.6 414.5 1496 414 1498.4 413.7 1500.4 413.3 1502.6 412.8 1504.8 412.2 1507 411.5 1508.9 410.6 1511 409.5 1512.9 408 1514.8 406.7 1516.8 405.5 1518.5 404.6 1520.2 402.9 1522 401.2 1523.8 399.7 1525.7 398.8 1527.7 398 1529.7 396.3 1531.4 395.6 1533.2 394.6 1534.9 393.7 1536.7 392.8 1538.5 391 1540.2 390.1 1541.8 388.5 1543.8 386.8 1545.4 385.6 1547 384.3 1548.5 382.6 1550 381.2 1551.5 379.6 1553 378 1554.4 376.5 1555.7 374.9 1557.4 373.2 1559 371.6 1560.5 370.2 1561.9 369 1563.5 367.2 1565.1 365.3 1566.6 363.3 1568.2 361.6 1569.5 359.7 1570.7 358 1572.2 355.9 1573.4 354.7 1574.6 352.8 1575.8 351 1577 349.5 1578.2 348.1 1579.7 346.3 1581.2 344.5 1582.6 342.9 1584.1 341.1 1585.5 340.1 1586.9 338.8 1588.7 336.8 1590.5 335 1592.3 333.3 1593.8 331.5 1595.3 330.4 1596.8 329.3 1598.4 327.6 1599.9 326.1 1601.7 324.2 1603.4 323.2 1605 321.5 1606.9 319.8 1608.7 318.6 1610.6 316.9 1612.3 315.9 1614.1 314.3 1616 312.8 1617.6 311.3 1619.3 310.2 1621 308.9 1622.8 307.4 1624.6 307 1626.8 305.6 1629.2 304.9 1631.1 304.5 1633.1 303.8 1635.1 303.1 1637.1 302.5 1639 302.3 1640.9 300.9 1642.7 300.5 1644.6 299.6 1646.4 298.5 1648.2 297.6 1650 296.7 1651.9 296 1653.7 295.4 1656 294.1 1658 293.2 1660 292.5 1662 292.5 1664 291.8 1665.9 290.9 1667.9 290.7 1669.9 289.9 1671.9 289.4 1673.8 289.1 1675.7 288.6 1677.6 288 1679.6 287.6 1681.5 286.9 1683.4 286.5 1685.3 285.8 1687.2 284.5 1689.1 283.8 1690.9 282.6 1692.8 282 1694.7 280.9 1696.5 279.7 1698.3 278.4 1700.5 277.8 1702.8 276.7 1704.9 275.7 1707 275.8 1709 275 1711.3 274.3 1713.6 273.5 1715.7 272.8 1717.7 271.5 1719.5 269.9 1721.1 269 1722.7 267.4 1724.8 265.7 1726.9 264.9 1728.7 263.3 1730.5 261.9 1732.2 260.7 1733.9 260.1 1735.5 258.6 1737.2 256.6 1738.6 254.5 1739.7 252.8 1740.8 251.4 1742 249.7 1743.3 247.8 1744.8 246 1746.7 244.9 1748.3 243.7 1750 242.5 1751.9 241.1 1753.7 240.5 1755.5 239.3 1757.3 238.5 1759 237.3 1760.6 236.1 1762.4 234.3 1764 233.6 1766 232.3 1767.9 230.2 1769.8 228.3 1771.3 227.3 1772.8 226.1 1774.5 224 1775.9 223.1 1777.3 221.1 1778.7 219.7 1780 218.1 1781.4 216.4 1782.7 215.1 1784.2 213.1 1785.5 211.8 1786.8 210.2 1788 207.9 1789.2 206.2 1790.6 204.3 1792.1 202.2 1793.4 200.8 1794.8 199 1796.6 197.1 1798.5 195.8 1800.1 194.4 1801.7 193.1 1803.3 191.9 1804.8 190.7 1806.4 189.4 1808.1 187.7 1809.8 185.8 1811.2 184.2 1812.6 183.1 1813.9 181.7 1815.3 180.2 1816.6 178.8 1818.1 176.7 1819.4 174.5 1820.7 172.9 1822 170.7 1823.3 168.6 1824.6 166.7 1825.7 164.7 1826.9 163 1828 161.6" fill="none" stroke="#FF0000" stroke-width="3.5" stroke-linejoin="round" stroke-linecap="round"/>
<text font-size="24.5" stroke="#000" stroke-width="0.2"><tspan x="0.2" y="23.2">(</tspan><tspan x="10.2" y="25.2" font-size="26">a</tspan><tspan x="25.2" y="23.2">)</tspan></text>
<text font-size="24.5" stroke="#000" stroke-width="0.2"><tspan x="924.8" y="18.7">(</tspan><tspan x="934.6" y="21.6" font-size="26">b</tspan><tspan x="951.9" y="18.7">)</tspan></text>
<text x="415.3" y="646" font-size="20.5" fill="#000" stroke="#000" stroke-width="0.35" textLength="110" lengthAdjust="spacingAndGlyphs">Potential/V</text>
<text x="1340.5" y="639.7" font-size="20.5" fill="#000" stroke="#000" stroke-width="0.35" textLength="109.6" lengthAdjust="spacingAndGlyphs">Potential/V</text>
<text transform="translate(19.5 366) rotate(-90)" font-size="21.5" stroke="#000" stroke-width="0.35" textLength="107" lengthAdjust="spacingAndGlyphs">Current/μA</text>
<text transform="translate(982 323) rotate(-90)" font-size="21.5" stroke="#000" stroke-width="0.35" textLength="107" lengthAdjust="spacingAndGlyphs">Current/μA</text>
<text x="704.6" y="57.2" font-size="19" fill="#000" stroke="#000" stroke-width="0.35" textLength="114.3" lengthAdjust="spacingAndGlyphs" xml:space="preserve">ΔI/μA =  4.22</text>
<text x="1657.8" y="62.2" font-size="19" fill="#000" stroke="#000" stroke-width="0.35" textLength="116.5" lengthAdjust="spacingAndGlyphs">ΔI/μA = -8.53</text>
<text x="423.1" y="84" font-size="19.5" fill="#FF0000" stroke="#FF0000" stroke-width="0.35" textLength="47.7" lengthAdjust="spacingAndGlyphs">21.89</text>
<text x="438.5" y="156.1" font-size="19.5" fill="#00AAED" stroke="#00AAED" stroke-width="0.35" textLength="47.1" lengthAdjust="spacingAndGlyphs">26.11</text>
<text x="1395.3" y="52.5" font-size="20" fill="#FF0000" stroke="#FF0000" stroke-width="0.35" textLength="51.4" lengthAdjust="spacingAndGlyphs">19.72</text>
<text x="1409.2" y="150.9" font-size="20" fill="#00AAED" stroke="#00AAED" stroke-width="0.35" textLength="51.4" lengthAdjust="spacingAndGlyphs">11.19</text>
<line x1="715.5" y1="469" x2="748" y2="469" stroke="#00AAED" stroke-width="3.9" stroke-linecap="round"/>
<line x1="715.5" y1="518" x2="748" y2="518" stroke="#FF0000" stroke-width="3.9" stroke-linecap="round"/>
<text x="753" y="476.8" font-size="20.5" fill="#000" stroke="#000" stroke-width="0.35" textLength="77.3" lengthAdjust="spacingAndGlyphs">Baseline</text>
<text x="753" y="526" font-size="20.5" fill="#000" stroke="#000" stroke-width="0.35" textLength="67.5" lengthAdjust="spacingAndGlyphs">Sample</text>
<line x1="1668.6" y1="452.8" x2="1701.4" y2="452.8" stroke="#00AAED" stroke-width="3.9" stroke-linecap="round"/>
<line x1="1668.6" y1="511.6" x2="1701.4" y2="511.6" stroke="#FF0000" stroke-width="3.9" stroke-linecap="round"/>
<text x="1706.2" y="460.5" font-size="20.5" fill="#000" stroke="#000" stroke-width="0.35" textLength="77.8" lengthAdjust="spacingAndGlyphs">Baseline</text>
<text x="1706.2" y="519.7" font-size="20.5" fill="#000" stroke="#000" stroke-width="0.35" textLength="67.8" lengthAdjust="spacingAndGlyphs">Sample</text>
</svg>
</body></html>
